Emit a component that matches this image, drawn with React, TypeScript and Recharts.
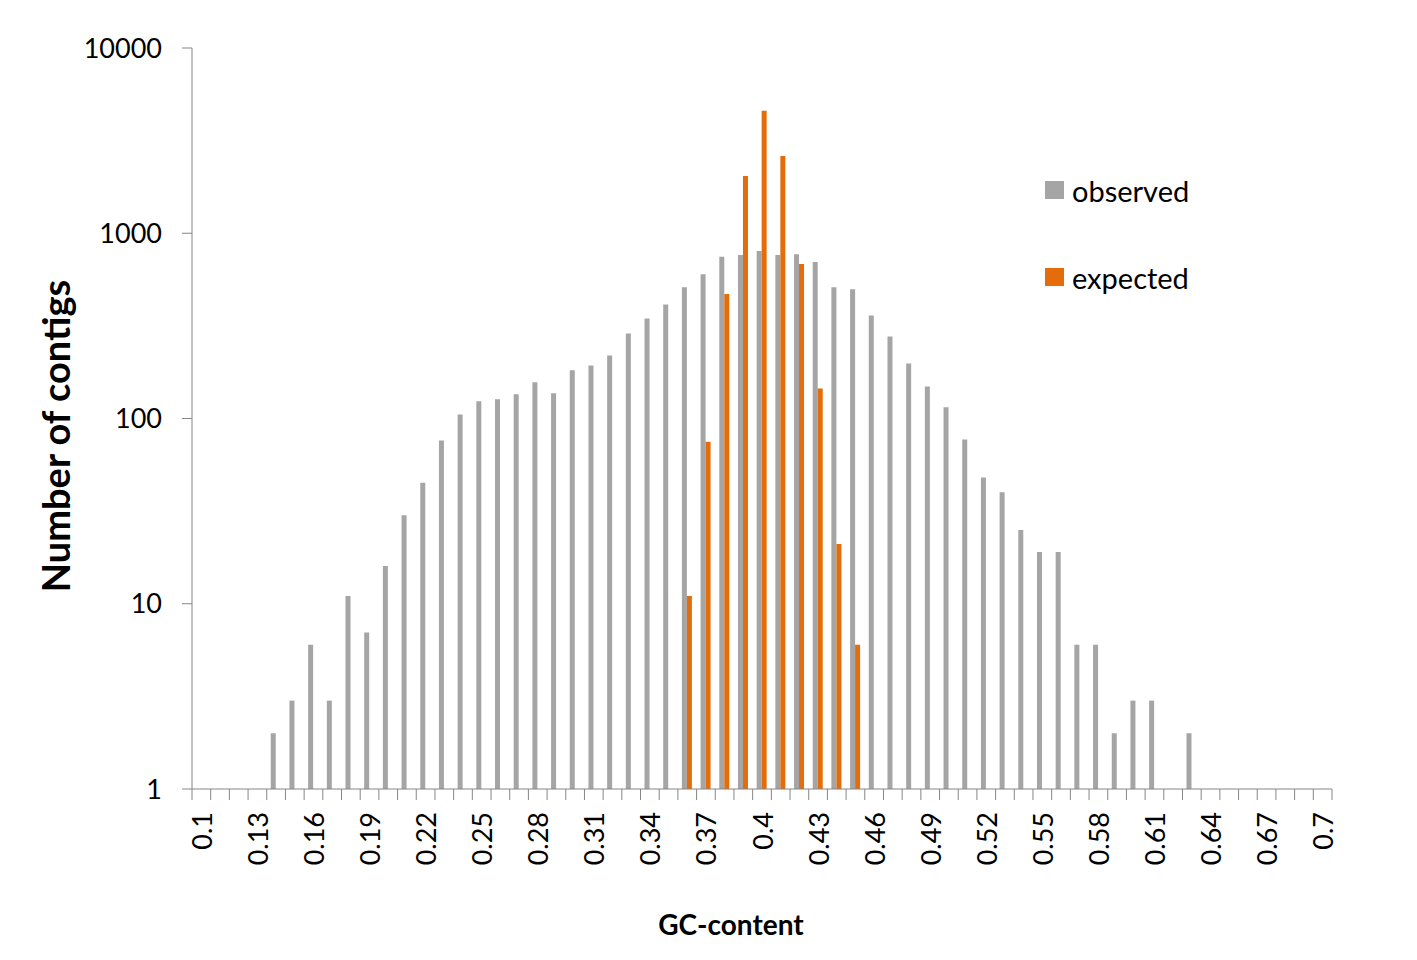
import { BarChart, Bar, XAxis, YAxis, Legend } from 'recharts';

const categories = [
  '0.1', '0.11', '0.12', '0.13', '0.14', '0.15', '0.16', '0.17', '0.18', '0.19',
  '0.2', '0.21', '0.22', '0.23', '0.24', '0.25', '0.26', '0.27', '0.28', '0.29',
  '0.3', '0.31', '0.32', '0.33', '0.34', '0.35', '0.36', '0.37', '0.38', '0.39',
  '0.4', '0.41', '0.42', '0.43', '0.44', '0.45', '0.46', '0.47', '0.48', '0.49',
  '0.5', '0.51', '0.52', '0.53', '0.54', '0.55', '0.56', '0.57', '0.58', '0.59',
  '0.6', '0.61', '0.62', '0.63', '0.64', '0.65', '0.66', '0.67', '0.68', '0.69',
  '0.7',
];

const observed = [
  null, null, null, null, 2, 3, 6, 3, 11, 7,
  16, 30, 45, 76, 105, 124, 127, 135, 157, 137,
  182, 193, 219, 288, 347, 413, 511, 600, 746, 763,
  802, 763, 770, 700, 511, 499, 360, 277, 198, 149,
  115, 77, 48, 40, 25, 19, 19, 6, 6, 2,
  3, 3, null, 2, null, null, null, null, null, null,
  null,
];

const expected = [
  null, null, null, null, null, null, null, null, null, null,
  null, null, null, null, null, null, null, null, null, null,
  null, null, null, null, null, null, 11, 75, 470, 2037,
  4585, 2612, 682, 145, 21, 6, null, null, null, null,
  null, null, null, null, null, null, null, null, null, null,
  null, null, null, null, null, null, null, null, null, null,
  null,
];

const yTicks = [1, 10, 100, 1000, 10000];
const legendOrder = ['observed', 'expected'];

const data = categories.map((gc, i) => ({
  gc,
  observed: observed[i],
  expected: expected[i],
}));

const AXIS = '#868686';
const GRAY = '#A5A5A5';
const ORANGE = '#E46C0A';
const FONT = 'Lato, "Open Sans", sans-serif';

const W = 1400;
const H = 940;
const LEFT = 184;
const RIGHT = 76;
const TOP = 40;
const BOTTOM_AXIS = 159;
const PLOT_BOTTOM = H - BOTTOM_AXIS;
const HALF_BAND = (W - LEFT - RIGHT) / categories.length / 2;

const GcTick = (props: any) => {
  const { x, index } = props;
  const last = index === categories.length - 1;
  return (
    <g>
      <line x1={x - HALF_BAND} x2={x - HALF_BAND} y1={PLOT_BOTTOM} y2={PLOT_BOTTOM + 11} stroke={AXIS} />
      {last && <line x1={x + HALF_BAND} x2={x + HALF_BAND} y1={PLOT_BOTTOM} y2={PLOT_BOTTOM + 11} stroke={AXIS} />}
      {index % 3 === 0 && (
        <text
          x={x}
          y={PLOT_BOTTOM + 23}
          transform={`rotate(-90, ${x}, ${PLOT_BOTTOM + 23})`}
          textAnchor="end"
          dominantBaseline="central"
          fontSize={27}
          fill="#000"
          fontFamily={FONT}
        >
          {props.payload.value}
        </text>
      )}
    </g>
  );
};

const renderLegend = (props: any) => {
  const items = [...props.payload].sort((a: any, b: any) => legendOrder.indexOf(a.value) - legendOrder.indexOf(b.value));
  return (
    <div style={{ fontFamily: FONT }}>
      {items.map((entry: any) => (
        <div key={entry.value} style={{ display: 'flex', alignItems: 'center', height: 40, marginBottom: 47 }}>
          <span style={{ width: 19, height: 18, background: entry.color, display: 'inline-block', marginRight: 8 }} />
          <span style={{ fontSize: 29, color: '#000' }}>{entry.value}</span>
        </div>
      ))}
    </div>
  );
};

export default function App() {
  return (
    <div style={{ fontFamily: FONT }}>
      <BarChart
        width={W}
        height={H}
        data={data}
        margin={{ top: TOP, right: RIGHT, bottom: 0, left: 0 }}
        barGap={0}
        barSize={5}
      >
        <XAxis
          dataKey="gc"
          interval={0}
          height={BOTTOM_AXIS}
          stroke={AXIS}
          tickLine={false}
          tick={<GcTick />}
          label={() => (
            <text x={723} y={927} textAnchor="middle" fontSize={28} fontWeight="bold" fill="#000" fontFamily={FONT}>
              GC-content
            </text>
          )}
        />
        <YAxis
          scale="log"
          type="number"
          domain={[1, 10000]}
          ticks={yTicks}
          allowDataOverflow
          width={LEFT}
          stroke={AXIS}
          tickSize={10}
          tickMargin={20}
          tick={{ fill: '#000', fontSize: 27, fontFamily: FONT }}
          label={() => (
            <text
              x={47}
              y={428}
              transform="rotate(-90, 47, 428)"
              textAnchor="middle"
              dominantBaseline="central"
              fontSize={38}
              fontWeight="bold"
              fill="#000"
              fontFamily={FONT}
            >
              Number of contigs
            </text>
          )}
        />
        <Legend
          layout="vertical"
          align="center"
          verticalAlign="middle"
          content={renderLegend}
          wrapperStyle={{ left: 1037, top: 162, width: 220 }}
        />
        <Bar dataKey="observed" name="observed" fill={GRAY} isAnimationActive={false} />
        <Bar dataKey="expected" name="expected" fill={ORANGE} isAnimationActive={false} />
      </BarChart>
    </div>
  );
}
